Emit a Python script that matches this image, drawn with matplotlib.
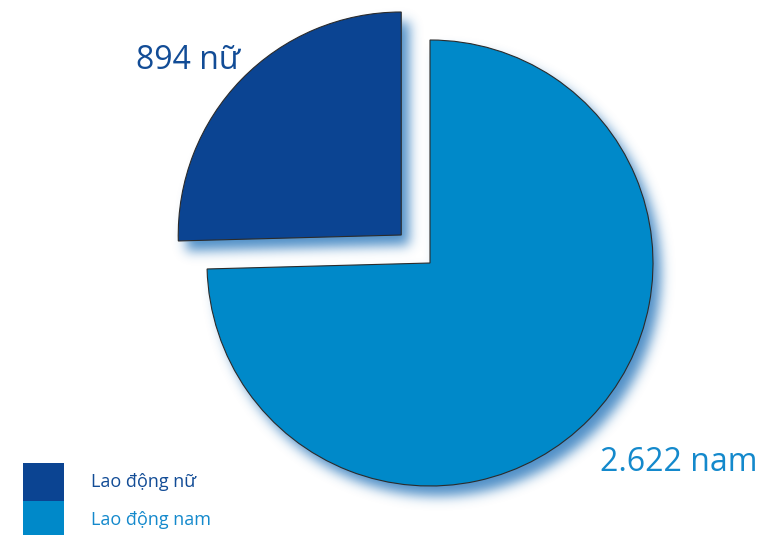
import numpy as np
import matplotlib
matplotlib.use("Agg")
import matplotlib.pyplot as plt
from matplotlib.figure import Figure
from matplotlib.backends.backend_agg import FigureCanvasAgg
from matplotlib.patches import Wedge, Patch

# Workforce split
categories = ["Lao động nữ", "Lao động nam"]
values = [894, 2622]
short_labels = ["nữ", "nam"]
slice_colors = ["#0b4492", "#0089c9"]
text_colors = ["#124c96", "#1489cc"]

W, H, DPI = 762, 535, 100
PX = 223.0                      # pixels per unit radius
CX, CY = 430.0, 263.0           # pie centre in pixels (from top-left)
FONT = "Open Sans"


def to_data(px, py):
    return (px - CX) / PX, (CY - py) / PX


XLIM = ((0 - CX) / PX, (W - CX) / PX)
YLIM = ((CY - H) / PX, CY / PX)

fig = plt.figure(figsize=(W / DPI, H / DPI), dpi=DPI)
fig.patch.set_facecolor("white")
ax = fig.add_axes([0, 0, 1, 1])

wedges, _ = ax.pie(
    values,
    colors=slice_colors,
    startangle=90,
    counterclock=True,
    explode=[0.18, 0.0],
    radius=1.0,
    wedgeprops=dict(edgecolor="#2b2b2b", linewidth=0.8),
)
ax.set_xlim(*XLIM)
ax.set_ylim(*YLIM)
ax.set_aspect("equal")
ax.axis("off")

# Soft drop shadow rendered from the same wedge geometry
sfig = Figure(figsize=(W / DPI, H / DPI), dpi=DPI)
sfig.patch.set_alpha(0)
sax = sfig.add_axes([0, 0, 1, 1])
sax.set_xlim(*XLIM)
sax.set_ylim(*YLIM)
sax.set_aspect("equal")
sax.axis("off")
sax.patch.set_alpha(0)
for w in wedges:
    sax.add_patch(Wedge(w.center, w.r, w.theta1, w.theta2,
                        facecolor="k", edgecolor="none"))
canvas = FigureCanvasAgg(sfig)
canvas.draw()
mask = np.asarray(canvas.buffer_rgba())[..., 3].astype(float) / 255.0

dx, dy = 8, 10
shifted = np.zeros_like(mask)
shifted[dy:, dx:] = mask[:-dy, :-dx]


def blur(a, sigma):
    r = int(3 * sigma)
    k = np.exp(-0.5 * (np.arange(-r, r + 1) / sigma) ** 2)
    k /= k.sum()
    p = np.pad(a, ((r, r), (0, 0)))
    a = sum(k[i] * p[i:i + a.shape[0], :] for i in range(2 * r + 1))
    p = np.pad(a, ((0, 0), (r, r)))
    a = sum(k[i] * p[:, i:i + a.shape[1]] for i in range(2 * r + 1))
    return a


soft = blur(shifted, 6.0)
shadow = np.zeros((H, W, 4))
shadow[..., 0] = 35 / 255
shadow[..., 1] = 115 / 255
shadow[..., 2] = 185 / 255
shadow[..., 3] = np.clip(soft * 0.8, 0, 1)
ax.imshow(shadow, extent=(XLIM[0], XLIM[1], YLIM[0], YLIM[1]),
          origin="upper", zorder=0.5, interpolation="bilinear", aspect="auto")


def fmt(v):
    return f"{v:,}".replace(",", ".")


label_pos = [(136, 69), (600, 471)]
for v, s, c, (px, py) in zip(values, short_labels, text_colors, label_pos):
    x, y = to_data(px, py)
    ax.text(x, y, f"{fmt(v)} {s}", color=c, fontsize=23, family=FONT,
            ha="left", va="baseline", zorder=3)

# Legend with flush colour blocks
handles = [Patch(facecolor=c, edgecolor="none") for c in slice_colors]
fs = 13
block_w_pt = 41 * 72 / DPI
block_h_pt = 38 * 72 / DPI
gap_pt = 27 * 72 / DPI
leg = fig.legend(
    handles, categories,
    loc="upper left",
    bbox_to_anchor=(23 / W, 1 - 463 / H),
    bbox_transform=fig.transFigure,
    frameon=False,
    borderpad=0, borderaxespad=0,
    labelspacing=0,
    handlelength=block_w_pt / fs,
    handleheight=(block_h_pt / fs - 0.245) / 0.65,
    handletextpad=gap_pt / fs,
    prop={"family": FONT, "size": fs},
)
for t, c in zip(leg.get_texts(), text_colors):
    t.set_color(c)

fig.savefig("out.png", dpi=DPI, facecolor="white")
